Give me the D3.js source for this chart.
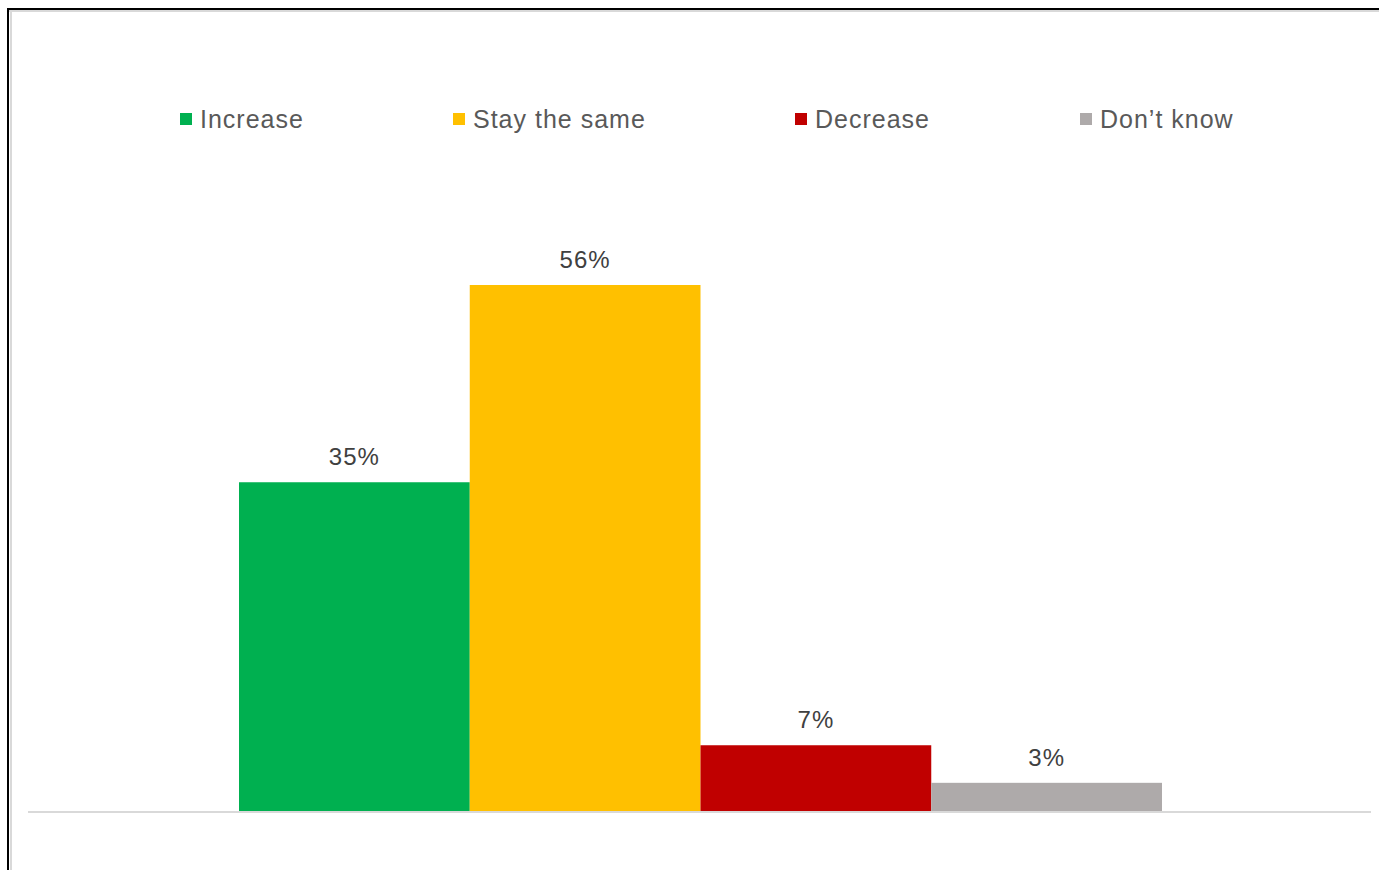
<!DOCTYPE html>
<html>
<head>
<meta charset="utf-8">
<script src="https://cdn.jsdelivr.net/npm/d3@7"></script>
<style>
  html, body { margin: 0; padding: 0; background: #fff; }
  svg { display: block; }
</style>
</head>
<body>
<script>
// Survey answers, one bar per response
const categories = ["Increase", "Stay the same", "Decrease", "Don\u2019t know"];
const values = [35, 56, 7, 3];
const colors = ["#00B050", "#FFC000", "#C00000", "#AEAAAA"];
const legendX = [180, 453, 795, 1080];

const W = 1379, H = 870;
const svg = d3.select("body").append("svg").attr("width", W).attr("height", H);

// Frame: dark outline top/left with a soft gray inner edge
svg.append("line").attr("x1", 8).attr("x2", W).attr("y1", 11).attr("y2", 11)
  .attr("stroke", "#d9d9d9").attr("stroke-width", 2);
svg.append("line").attr("x1", 11).attr("x2", 11).attr("y1", 8).attr("y2", H)
  .attr("stroke", "#d9d9d9").attr("stroke-width", 2);
svg.append("line").attr("x1", 7).attr("x2", W).attr("y1", 9).attr("y2", 9)
  .attr("stroke", "#000").attr("stroke-width", 2);
svg.append("line").attr("x1", 8).attr("x2", 8).attr("y1", 8).attr("y2", H)
  .attr("stroke", "#000").attr("stroke-width", 2);

const baseY = 811;
const x = d3.scaleBand().domain(categories).range([239, 1162]).paddingInner(0).paddingOuter(0);
const y = d3.scaleLinear().domain([0, 56]).range([baseY, 285]);

// Bars
svg.append("g").selectAll("rect").data(categories).join("rect")
  .attr("x", d => x(d))
  .attr("width", x.bandwidth())
  .attr("y", (d, i) => y(values[i]))
  .attr("height", (d, i) => y(0) - y(values[i]))
  .attr("fill", (d, i) => colors[i]);

// Baseline
svg.append("line").attr("x1", 28).attr("x2", 1371).attr("y1", baseY + 1).attr("y2", baseY + 1)
  .attr("stroke", "#d9d9d9").attr("stroke-width", 2);

// Value labels
svg.append("g").selectAll("text").data(categories).join("text")
  .attr("x", d => x(d) + x.bandwidth() / 2)
  .attr("y", (d, i) => y(values[i]) - 17)
  .attr("text-anchor", "middle")
  .attr("font-family", "Liberation Sans, Arial, sans-serif")
  .attr("font-size", 24)
  .attr("letter-spacing", 1)
  .attr("fill", "#404040")
  .text((d, i) => values[i] + "%");

// Legend
const lg = svg.append("g").selectAll("g").data(categories).join("g")
  .attr("transform", (d, i) => `translate(${legendX[i]},0)`);
lg.append("rect").attr("x", 0).attr("y", 113).attr("width", 12).attr("height", 12)
  .attr("fill", (d, i) => colors[i]);
lg.append("text").attr("x", 20).attr("y", 128)
  .attr("font-family", "Liberation Sans, Arial, sans-serif")
  .attr("font-size", 25)
  .attr("letter-spacing", 1)
  .attr("fill", "#595959")
  .text(d => d);
</script>
</body>
</html>
